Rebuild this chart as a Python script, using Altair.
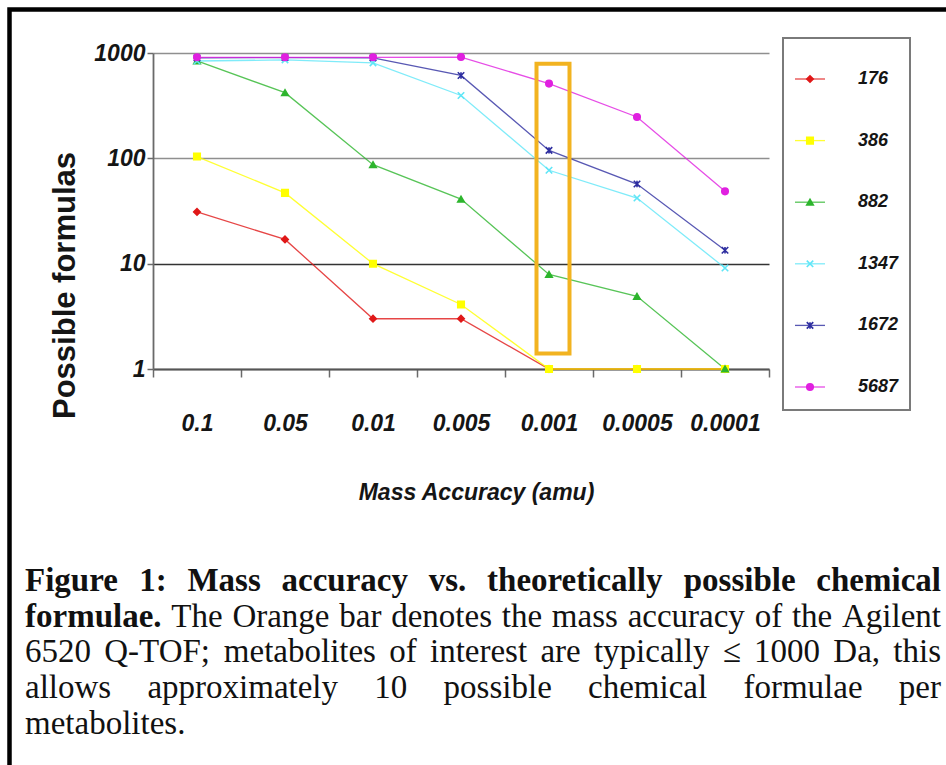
import altair as alt
import pandas as pd

# Mass accuracy settings (amu), in display order
accuracy = ["0.1", "0.05", "0.01", "0.005", "0.001", "0.0005", "0.0001"]

# Metabolite masses (Da) and the number of possible formulas at each accuracy
series = ["176", "386", "882", "1347", "1672", "5687"]
formulas_176 = [31, 17, 3, 3, 1, 1, 1]
formulas_386 = [104, 47, 10, 4.1, 1, 1, 1]
formulas_882 = [840, 420, 87, 41, 7.9, 4.9, 1]
formulas_1347 = [840, 860, 805, 395, 77, 42, 9.1]
formulas_1672 = [900, 905, 900, 612, 119, 57, 13.4]
formulas_5687 = [910, 910, 910, 915, 512, 247, 48.6]

series_colors = ["#E01818", "#FFFF00", "#2DB52D", "#5FE6F7", "#2E2EA0", "#E020E0"]
series_shapes = [
    "diamond",
    "square",
    "triangle-up",
    "M-1,-1L1,1M-1,1L1,-1",
    "M-1,-1L1,1M-1,1L1,-1M0,-1L0,1",
    "circle",
]

# Instrument accuracy highlighted by the orange box
highlight_accuracy = "0.001"
highlight_low, highlight_high = 1.4, 790

# Caption: each line is a list of (word, weight); the last line is not justified
caption_lines = [
    [(w, "bold") for w in "Figure 1: Mass accuracy vs. theoretically possible chemical".split()],
    [("formulae.", "bold")]
    + [(w, "normal") for w in "The Orange bar denotes the mass accuracy of the Agilent".split()],
    [(w, "normal") for w in "6520 Q-TOF; metabolites of interest are typically \u2264 1000 Da, this".split()],
    [(w, "normal") for w in "allows approximately 10 possible chemical formulae per".split()],
    [(w, "normal") for w in "metabolites.".split()],
]

values = [formulas_176, formulas_386, formulas_882, formulas_1347, formulas_1672, formulas_5687]
rows = []
for name, vals in zip(series, values):
    for acc, v in zip(accuracy, vals):
        rows.append({"mass": name, "accuracy": acc, "formulas": v})
df = pd.DataFrame(rows)

SANS = "Liberation Sans"
SERIF = "Liberation Serif"
W, H = 616, 316

# --- Times-compatible advance widths (1/1000 em) for justified caption layout ---
_REG = {" ": 250, ",": 250, "-": 333, ".": 250, ":": 278, ";": 278, "\u2264": 549,
        "A": 722, "D": 722, "F": 556, "O": 722, "Q": 722, "T": 611,
        "a": 444, "b": 500, "c": 444, "d": 500, "e": 444, "f": 333, "g": 500, "h": 500,
        "i": 278, "j": 278, "k": 500, "l": 278, "m": 778, "n": 500, "o": 500, "p": 500,
        "q": 500, "r": 333, "s": 389, "t": 278, "u": 500, "v": 500, "w": 722, "x": 500,
        "y": 500, "z": 444}
_BOLD = {" ": 250, ",": 250, ".": 250, ":": 333, "F": 611, "M": 944,
         "a": 500, "b": 556, "c": 444, "d": 556, "e": 444, "f": 333, "g": 500, "h": 556,
         "i": 278, "l": 278, "m": 833, "n": 556, "o": 500, "p": 556, "r": 444, "s": 389,
         "t": 333, "u": 556, "v": 500, "y": 500}


def word_width(word, weight, size):
    table = _BOLD if weight == "bold" else _REG
    return sum(table.get(ch, 500) for ch in word) * size / 1000.0


CAP_SIZE = 33
CAP_LEFT, CAP_RIGHT = -128, 788      # text block edges, relative to the plot origin
CAP_BASE, CAP_LEAD = 538, 35.7

cap_rows = []
for i, words in enumerate(caption_lines):
    widths = [word_width(w, wt, CAP_SIZE) for w, wt in words]
    justify = i < len(caption_lines) - 1 and len(words) > 1
    if justify:
        gap = (CAP_RIGHT - CAP_LEFT - sum(widths)) / (len(words) - 1)
    else:
        gap = word_width(" ", "normal", CAP_SIZE)
    x = CAP_LEFT
    for (w, wt), wd in zip(words, widths):
        cap_rows.append({"word": w, "weight": wt, "x": x, "y": CAP_BASE + i * CAP_LEAD})
        x += wd + gap
cap_df = pd.DataFrame(cap_rows)

color_scale = alt.Scale(domain=series, range=series_colors)
shape_scale = alt.Scale(domain=series, range=series_shapes)
y_scale = alt.Scale(type="log", domain=[1, 1000])
x_scale = alt.Scale(type="band", paddingInner=0, paddingOuter=0)

x_axis = alt.Axis(
    title="Mass Accuracy (amu)",
    labelAngle=0,
    tickBand="extent",
    tickSize=8,
    tickColor="#6a6a6a",
    tickWidth=1.5,
    domainColor="#555555",
    domainWidth=1.8,
    labelFont=SANS,
    labelFontSize=23,
    labelFontStyle="italic",
    labelFontWeight="bold",
    labelColor="#151515",
    labelPadding=35,
    titleFont=SANS,
    titleFontSize=23,
    titleFontStyle="italic",
    titleFontWeight="bold",
    titleColor="#151515",
    titleX=323,
    titleY=123,
    titleBaseline="middle",
    grid=False,
)

y_axis = alt.Axis(
    title="Possible formulas",
    values=[1, 10, 100, 1000],
    format="d",
    grid=True,
    gridColor=alt.condition("datum.value == 10", alt.value("#333333"), alt.value("#8f8f8f")),
    gridWidth=1.6,
    tickSize=6,
    tickColor="#6a6a6a",
    tickWidth=1.5,
    domainColor="#6a6a6a",
    domainWidth=1.8,
    labelFont=SANS,
    labelFontSize=23,
    labelFontStyle="italic",
    labelFontWeight="bold",
    labelColor="#151515",
    labelPadding=2,
    titleFont=SANS,
    titleFontSize=31,
    titleFontWeight="bold",
    titleColor="#151515",
    titleAngle=270,
    titleX=-88,
    titleY=232,
    titleAlign="center",
    titleBaseline="middle",
)

base = alt.Chart(df)

lines = base.mark_line(strokeWidth=1.3, opacity=0.8).encode(
    x=alt.X("accuracy:N", sort=accuracy, scale=x_scale, axis=x_axis, bandPosition=0.5),
    y=alt.Y("formulas:Q", scale=y_scale, axis=y_axis),
    color=alt.Color("mass:N", scale=color_scale, legend=None),
    detail="mass:N",
    order=alt.Order("order:Q"),
).transform_calculate(order="indexof(%s, datum.accuracy)" % str(accuracy))

points = base.mark_point(size=42, strokeWidth=1.6, opacity=1).encode(
    x=alt.X("accuracy:N", sort=accuracy, bandPosition=0.5),
    y=alt.Y("formulas:Q"),
    fill=alt.Fill("mass:N", scale=color_scale, legend=None),
    stroke=alt.Stroke("mass:N", scale=color_scale, legend=None),
    shape=alt.Shape("mass:N", scale=shape_scale, legend=None),
)

highlight = alt.Chart(
    pd.DataFrame({"accuracy": [highlight_accuracy], "lo": [highlight_low], "hi": [highlight_high]})
).mark_bar(width=33, xOffset=4, fillOpacity=0, stroke="#F2B320", strokeWidth=4).encode(
    x=alt.X("accuracy:N", sort=accuracy),
    y=alt.Y("lo:Q"),
    y2="hi:Q",
)

plot = alt.layer(lines, points, highlight)

# Legend panel on the right
leg_df = pd.DataFrame({"mass": series})
leg_y = alt.Y("mass:N", sort=series, scale=alt.Scale(type="point", range=[26, 334], padding=0), axis=None)
one = pd.DataFrame({"k": [0]})

leg_box = alt.Chart(one).mark_rect(fill="white", stroke="#7a7a7a", strokeWidth=2).encode(
    x=alt.value(630), x2=alt.value(757), y=alt.value(-15), y2=alt.value(357)
)
leg_rule = alt.Chart(leg_df).mark_tick(thickness=1.3, size=30, orient="horizontal", opacity=0.8).encode(
    x=alt.value(657),
    y=leg_y,
    color=alt.Color("mass:N", scale=color_scale, legend=None),
)
leg_pts = alt.Chart(leg_df).mark_point(size=42, strokeWidth=1.6, opacity=1).encode(
    x=alt.value(657),
    y=leg_y,
    fill=alt.Fill("mass:N", scale=color_scale, legend=None),
    stroke=alt.Stroke("mass:N", scale=color_scale, legend=None),
    shape=alt.Shape("mass:N", scale=shape_scale, legend=None),
)
leg_txt = alt.Chart(leg_df).mark_text(
    align="left", baseline="middle", font=SANS, fontSize=18, fontStyle="italic",
    fontWeight="bold", color="#151515",
).encode(x=alt.value(705), y=leg_y, text="mass:N")

legend = alt.layer(leg_box, leg_rule, leg_pts, leg_txt)

# Outer frame (top and left edges visible)
frame = alt.Chart(one).mark_rect(fillOpacity=0, stroke="black", strokeWidth=4.5).encode(
    x=alt.value(-143.5), x2=alt.value(806), y=alt.value(-43.5), y2=alt.value(725)
)


def caption_words(weight):
    return alt.Chart(cap_df).transform_filter(
        alt.datum.weight == weight
    ).mark_text(
        align="left", baseline="alphabetic", font=SERIF, fontSize=CAP_SIZE,
        fontWeight=weight, color="#111111",
    ).encode(
        x=alt.X("x:Q", scale=None),
        y=alt.Y("y:Q", scale=None),
        text="word:N",
    )


cap = alt.layer(caption_words("bold"), caption_words("normal"))

chart = (
    alt.layer(plot, legend, cap, frame)
    .resolve_scale(x="independent", y="independent")
    .properties(
        width=W,
        height=H,
        autosize=alt.AutoSizeParams(type="none"),
        padding={"left": 153, "top": 53, "right": 177, "bottom": 396},
        background="white",
    )
    .configure_view(stroke=None)
)

chart.save("out.html", embed_options={"renderer": "svg", "actions": False})
